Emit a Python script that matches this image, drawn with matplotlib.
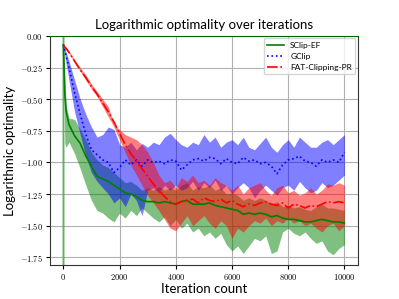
import matplotlib
matplotlib.use('Agg')
import matplotlib.pyplot as plt
from matplotlib.ticker import FuncFormatter

plt.rcParams['mathtext.fontset'] = 'cm'
plt.rcParams['font.family'] = ['Lato', 'DejaVu Sans']

iters = [0, 50, 100] + list(range(200, 10001, 200))

# SClip-EF
sclip_mean = [-0.07, -0.45, -0.60, -0.70, -0.79, -0.85, -0.95, -1.03, -1.11, -1.13, -1.15, -1.18, -1.21,
              -1.24, -1.25, -1.27, -1.30, -1.31, -1.31, -1.32, -1.31, -1.32, -1.33, -1.31, -1.30, -1.33,
              -1.33, -1.33, -1.32, -1.34, -1.35, -1.36, -1.37, -1.38, -1.41, -1.40, -1.41, -1.40, -1.41,
              -1.43, -1.42, -1.44, -1.45, -1.45, -1.46, -1.47, -1.47, -1.46, -1.45, -1.46, -1.47, -1.47, -1.48]
sclip_hi = [-0.07, -0.30, -0.55, -0.65, -0.66, -0.74, -0.82, -0.92, -0.98, -1.02, -1.04, -1.08, -1.12,
            -1.16, -1.15, -1.18, -1.22, -1.20, -1.22, -1.19, -1.22, -1.20, -1.22, -1.18, -1.16, -1.22,
            -1.19, -1.20, -1.18, -1.22, -1.20, -1.25, -1.24, -1.26, -1.30, -1.28, -1.30, -1.28, -1.30,
            -1.33, -1.31, -1.35, -1.34, -1.36, -1.35, -1.37, -1.38, -1.35, -1.33, -1.36, -1.36, -1.37, -1.38]
sclip_lo = [-0.07, -0.85, -0.88, -0.84, -0.93, -1.05, -1.18, -1.30, -1.38, -1.40, -1.44, -1.47, -1.40,
            -1.44, -1.38, -1.42, -1.36, -1.40, -1.44, -1.47, -1.43, -1.50, -1.45, -1.52, -1.48, -1.55,
            -1.52, -1.58, -1.55, -1.60, -1.56, -1.65, -1.70, -1.66, -1.72, -1.66, -1.60, -1.62, -1.58,
            -1.72, -1.70, -1.55, -1.52, -1.56, -1.58, -1.55, -1.60, -1.64, -1.62, -1.70, -1.73, -1.68, -1.65]

# GClip
gclip_mean = [-0.07, -0.12, -0.16, -0.25, -0.45, -0.62, -0.78, -0.90, -0.94, -0.98, -1.00, -1.08, -1.04,
              -0.98, -1.02, -0.98, -1.03, -0.98, -1.00, -0.99, -1.01, -0.98, -0.99, -1.06, -1.02, -0.98,
              -0.97, -0.99, -0.96, -0.97, -1.01, -0.97, -1.00, -1.01, -0.96, -0.99, -0.98, -1.01, -1.00,
              -1.03, -1.09, -1.02, -0.98, -0.97, -0.95, -0.99, -1.00, -1.03, -0.98, -1.00, -0.98, -1.00, -0.92]
gclip_hi = [-0.07, -0.10, -0.13, -0.20, -0.35, -0.50, -0.62, -0.72, -0.80, -0.78, -0.72, -0.74, -0.86,
            -0.88, -0.84, -0.90, -0.85, -0.88, -0.84, -0.86, -0.80, -0.77, -0.82, -0.86, -0.88, -0.84,
            -0.86, -0.78, -0.84, -0.80, -0.88, -0.84, -0.82, -0.86, -0.80, -0.88, -0.90, -0.85, -0.80,
            -0.88, -0.92, -0.86, -0.82, -0.88, -0.80, -0.84, -0.88, -0.88, -0.84, -0.82, -0.86, -0.82, -0.78]
gclip_lo = [-0.07, -0.15, -0.22, -0.35, -0.60, -0.78, -0.95, -1.08, -1.15, -1.20, -1.25, -1.32, -1.28,
            -1.35, -1.25, -1.30, -1.42, -1.22, -1.20, -1.24, -1.18, -1.22, -1.18, -1.22, -1.20, -1.15,
            -1.22, -1.16, -1.20, -1.14, -1.22, -1.18, -1.25, -1.20, -1.16, -1.20, -1.28, -1.22, -1.18,
            -1.22, -1.26, -1.20, -1.18, -1.22, -1.15, -1.20, -1.24, -1.22, -1.16, -1.20, -1.18, -1.14, -1.10]

# FAT-Clipping-PR
fat_mean = [-0.07, -0.09, -0.10, -0.13, -0.20, -0.27, -0.33, -0.40, -0.46, -0.53, -0.60, -0.68, -0.77,
            -0.86, -0.93, -0.99, -1.05, -1.11, -1.17, -1.22, -1.27, -1.31, -1.33, -1.31, -1.30, -1.29,
            -1.32, -1.28, -1.30, -1.31, -1.29, -1.32, -1.30, -1.33, -1.35, -1.33, -1.34, -1.32, -1.31,
            -1.33, -1.34, -1.32, -1.36, -1.33, -1.34, -1.36, -1.34, -1.35, -1.33, -1.31, -1.32, -1.31, -1.32]
fat_hi = [-0.07, -0.08, -0.09, -0.12, -0.19, -0.25, -0.31, -0.38, -0.44, -0.50, -0.56, -0.70, -0.74,
          -0.78, -0.80, -0.82, -0.86, -0.92, -1.00, -1.10, -1.16, -1.14, -1.20, -1.12, -1.15, -1.10,
          -1.16, -1.14, -1.18, -1.12, -1.16, -1.18, -1.22, -1.18, -1.25, -1.20, -1.18, -1.16, -1.22,
          -1.26, -1.20, -1.18, -1.24, -1.22, -1.26, -1.24, -1.20, -1.25, -1.22, -1.17, -1.18, -1.16, -1.18]
fat_lo = [-0.07, -0.10, -0.11, -0.14, -0.21, -0.28, -0.35, -0.42, -0.48, -0.56, -0.64, -0.72, -0.82,
          -0.92, -1.02, -1.10, -1.18, -1.26, -1.32, -1.38, -1.45, -1.52, -1.54, -1.48, -1.42, -1.50,
          -1.46, -1.42, -1.48, -1.52, -1.46, -1.50, -1.60, -1.52, -1.55, -1.50, -1.46, -1.48, -1.44,
          -1.50, -1.46, -1.48, -1.44, -1.48, -1.46, -1.50, -1.48, -1.52, -1.55, -1.50, -1.48, -1.54, -1.50]

fig, ax = plt.subplots(figsize=(3.99, 2.99), dpi=100)
fig.subplots_adjust(left=0.125, right=0.897, bottom=0.114, top=0.88)

ax.axvline(0, color='green', alpha=0.3, lw=2)
ax.fill_between(iters, sclip_lo, sclip_hi, color='green', alpha=0.5, lw=0)
ax.fill_between(iters, gclip_lo, gclip_hi, color='blue', alpha=0.5, lw=0)
ax.fill_between(iters, fat_lo, fat_hi, color='red', alpha=0.5, lw=0)

ax.plot(iters, sclip_mean, color='green', lw=1.2, label='SClip-EF')
ax.plot(iters, gclip_mean, color='blue', lw=1.2, ls=':', label='GClip')
ax.plot(iters, fat_mean, color='red', lw=1.2, ls='-.', label='FAT-Clipping-PR')

ax.set_xlim(-480, 10480)
ax.set_ylim(-1.81, 0.0)
ax.set_xticks([0, 2000, 4000, 6000, 8000, 10000])
ax.set_yticks([0.0, -0.25, -0.5, -0.75, -1.0, -1.25, -1.5, -1.75])
ax.xaxis.set_major_formatter(FuncFormatter(lambda v, p: r'$%d$' % v))
ax.yaxis.set_major_formatter(FuncFormatter(lambda v, p: r'$%.2f$' % v))
ax.tick_params(labelsize=6, length=3, pad=2)
ax.grid(True, color='#b0b0b0', lw=0.8)
ax.set_axisbelow(True)
for s in ax.spines.values():
    s.set_color('#333333')
ax.spines['top'].set_color('darkgreen')

ax.set_title('Logarithmic optimality over iterations', fontsize=9.5, pad=5)
ax.set_xlabel('Iteration count', fontsize=9.5, labelpad=1)
ax.set_ylabel('Logarithmic optimality', fontsize=9.5, labelpad=3)
ax.legend(loc='upper right', fontsize=6, framealpha=0.8, borderaxespad=0.3)

plt.savefig('out.png', dpi=100)
